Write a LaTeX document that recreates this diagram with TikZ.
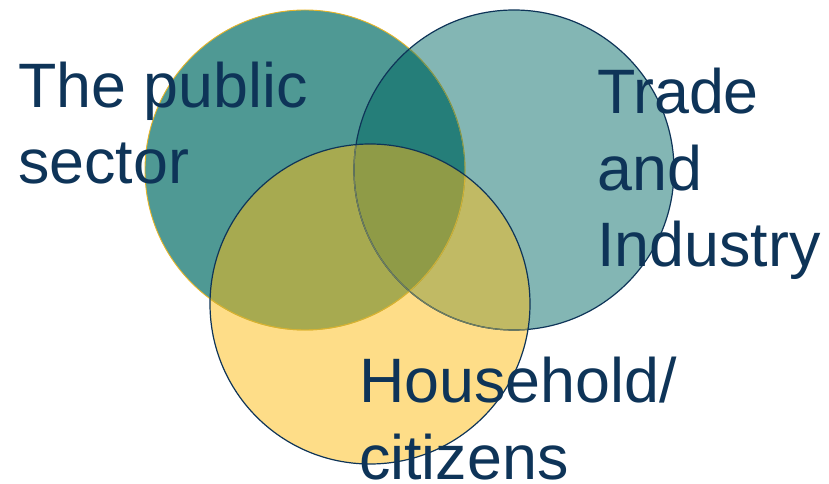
\documentclass[tikz,border=0pt]{standalone}
\usepackage{fontspec}
\setmainfont{Liberation Sans}

% region colours
\definecolor{pubonly}{HTML}{4F9994}
\definecolor{indonly}{HTML}{83B6B4}
\definecolor{hhonly}{HTML}{FEDD88}
\definecolor{pubind}{HTML}{257E79}
\definecolor{pubhh}{HTML}{A7AA50}
\definecolor{indhh}{HTML}{C1BA64}
\definecolor{allthree}{HTML}{8F9B47}
% lines and text
\definecolor{navy}{HTML}{0E3458}
\definecolor{gold}{HTML}{E8B528}

\begin{document}
\begin{tikzpicture}[x=1bp,y=-1bp,line join=round,
                    venntext/.style={anchor=base west,inner sep=0pt,align=left,
                        text=navy,font=\fontsize{63}{77}\selectfont}]
    \useasboundingbox (0,0) rectangle (829,484);

    %% Circle centres.
    \path (305,170) coordinate (pub)
          (514,170) coordinate (ind)
          (370,304) coordinate (hh);
    \def\rad{160bp}

    % Single regions.
    \fill[pubonly] (pub) circle (\rad);
    \fill[indonly] (ind) circle (\rad);
    \fill[hhonly]  (hh)  circle (\rad);

    % Overlaps, two at a time and then all three.
    \begin{scope}
        \clip (pub) circle (\rad);
        \fill[pubind] (ind) circle (\rad);
        \fill[pubhh]  (hh)  circle (\rad);
    \end{scope}
    \begin{scope}
        \clip (ind) circle (\rad);
        \fill[indhh] (hh) circle (\rad);
        \clip (pub) circle (\rad);
        \fill[allthree] (hh) circle (\rad);
    \end{scope}

    % Outlines, dimmed where a later circle lies on top.
    \draw[gold,line width=0.9bp] (pub) circle (\rad);
    \draw[navy,line width=1.2bp] (ind) circle (\rad);
    \begin{scope}
        \clip (ind) circle (\rad);
        \draw[gold!40!pubind,line width=0.9bp] (pub) circle (\rad);
    \end{scope}
    \begin{scope}
        \clip (hh) circle (\rad);
        \draw[gold!70!pubhh,line width=0.9bp] (pub) circle (\rad);
        \draw[navy!45!indhh,line width=1.2bp] (ind) circle (\rad);
    \end{scope}
    \draw[navy,line width=1.2bp] (hh) circle (\rad);

    % Labels (anchored at the baseline of the last line).
    \node[venntext] (publab) at (18,184) {The public\\sector};
    \node[venntext] (indlab) at (597,267) {Trade\\and\\Industry};
    \node[venntext] (hhlab)  at (359,479) {Household/\\citizens};
\end{tikzpicture}
\end{document}
